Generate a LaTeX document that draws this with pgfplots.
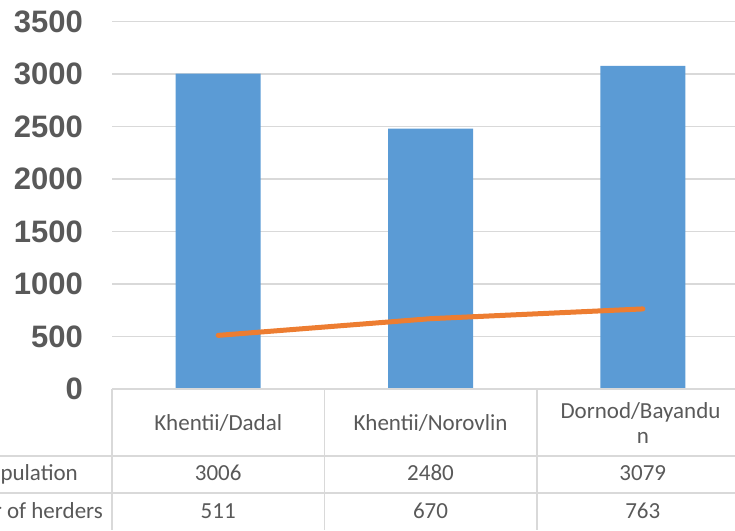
\documentclass[border=0pt]{standalone}
\usepackage{pgfplots}
\pgfplotsset{compat=1.18}
\usepackage{fontspec}
\setmainfont{Carlito}
\newfontfamily\tickfont{Liberation Sans}
\definecolor{barblue}{HTML}{5B9BD5}
\definecolor{lineorange}{HTML}{ED7D31}
\definecolor{gridgray}{HTML}{D9D9D9}
\definecolor{textgray}{HTML}{595959}
\begin{document}
\begin{tikzpicture}[x=1pt,y=1pt]
\useasboundingbox (0,0) rectangle (735,530);
\clip (0,0) rectangle (735,530);
\begin{axis}[
  at={(112pt,141pt)}, anchor=south west,
  scale only axis,
  width=637pt, height=367.3pt,
  xmin=-0.5, xmax=2.5,
  ymin=0, ymax=3500,
  xtick=\empty,
  ytick={0,500,...,3500},
  ymajorgrids,
  grid style={gridgray, line width=1.6pt},
  axis line style={draw=none},
  major tick length=0pt,
  /pgf/number format/assume math mode=true,
  /pgf/number format/1000 sep={},
  yticklabel style={font=\tickfont\bfseries\fontsize{31}{31}\selectfont, text=textgray, anchor=east, inner sep=0pt, xshift=-29pt},
  clip=false,
]
\addplot[ybar, bar width=85pt, bar shift=0pt, fill=barblue, draw=none] coordinates {(0,3006) (1,2480) (2,3079)};
\addplot[sharp plot, no marks, lineorange, line width=5pt, line cap=round] coordinates {(0,511) (1,670) (2,763)};
\end{axis}
% data table
\begin{scope}[gridgray, line width=1.6pt]
\draw (112,141) -- (735,141);
\draw (0,74) -- (735,74);
\draw (0,37) -- (735,37);
\draw (112,141) -- (112,0);
\draw (324.3,141) -- (324.3,0);
\draw (536.7,141) -- (536.7,0);
\end{scope}
\begin{scope}[every node/.style={text=textgray, inner sep=0pt, font=\fontsize{23}{23}\selectfont}]
\node[anchor=base] at (218.2,100) {Khentii/Dadal};
\node[anchor=base] at (430.5,100) {Khentii/Norovlin};
\node[anchor=base] at (640.5,112) {Dornod/Bayandu};
\node[anchor=base] at (642.8,87) {n};
\node[anchor=base east] at (78,50) {Population};
\node[anchor=base east] at (103,12) {Number of herders};
\node[anchor=base] at (218.2,50) {3006};
\node[anchor=base] at (430.5,50) {2480};
\node[anchor=base] at (642.8,50) {3079};
\node[anchor=base] at (218.2,12) {511};
\node[anchor=base] at (430.5,12) {670};
\node[anchor=base] at (642.8,12) {763};
\end{scope}
\end{tikzpicture}
\end{document}
